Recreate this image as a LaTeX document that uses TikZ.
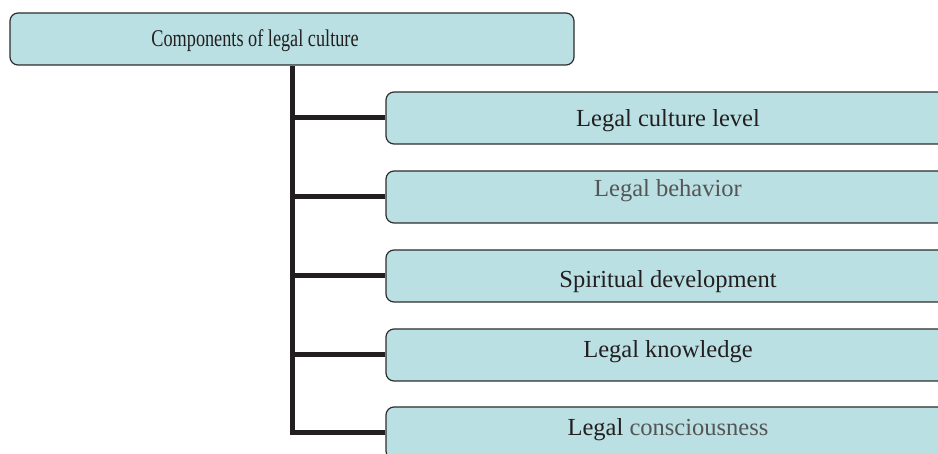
\documentclass[tikz,border=0pt]{standalone}
\usepackage{fontspec}
\setmainfont{Liberation Serif}
\usetikzlibrary{positioning}
\definecolor{boxfill}{RGB}{186,224,227}
\definecolor{boxline}{RGB}{45,45,45}
\definecolor{linkline}{RGB}{35,31,32}
\definecolor{darktext}{RGB}{35,31,32}
\definecolor{softtext}{RGB}{85,85,85}

\begin{document}
\begin{tikzpicture}[
  x=1pt, y=-1pt,
  font=\fontsize{24.5}{28}\selectfont,
  comp/.style={draw=boxline, line width=1.2pt, fill=boxfill,
    rounded corners=8pt, minimum width=564pt, minimum height=52pt,
    inner sep=0pt, text=darktext, text depth=0pt},
  drop/.style={text height=#1},
  link/.style={draw=linkline, line width=5pt},
]
\useasboundingbox (0,0) rectangle (938,454);
\clip (0,0) rectangle (938,454);
\node[comp, drop=16pt, font=\fontsize{24}{28}\selectfont] (root) at (292,39)
  {\scalebox{0.76}[1]{Components of legal culture}\hspace*{74pt}};
\node[comp, drop=18pt] (c1) at (668,118) {Legal culture level};
\node[comp, drop=0pt, text=softtext] (c2) at (668,197) {Legal behavior};
\node[comp, drop=24pt] (c3) at (668,276) {Spiritual development};
\node[comp, drop=5pt] (c4) at (668,355) {Legal knowledge};
\node[comp, drop=5pt] (c5) at (668,433) {Legal \textcolor{softtext}{consciousness}};
% trunk and branches
\draw[link] (root.south) |- (c5.west);
\foreach \i in {1,...,4} {
  \draw[link] (root.south |- c\i.west) -- (c\i.west);
}
\end{tikzpicture}
\end{document}
